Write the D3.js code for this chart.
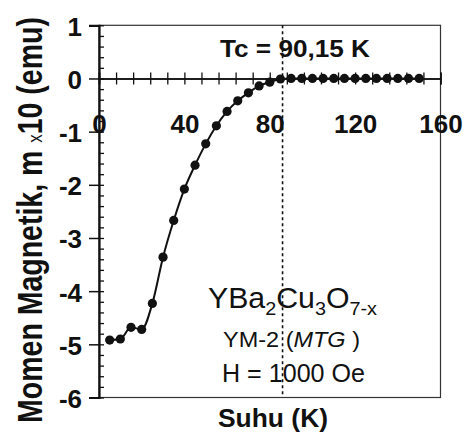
<!DOCTYPE html>
<html><head><meta charset="utf-8">
<script src="https://cdn.jsdelivr.net/npm/d3@7"></script>
<style>body{margin:0;background:#fff} svg{display:block} text{font-family:Arial,"Liberation Sans",sans-serif;fill:#111}</style>
</head><body><svg id="c" width="465" height="432"></svg>
<script>
// ---- data ----
const temps = [5,10,15,20,25,30,35,40,45,50,55,60,65,70,75,80,85,90,95,100,105,110,115,120,125,130,135,140,145,150];
const moment = [-4.92,-4.90,-4.68,-4.72,-4.23,-3.36,-2.67,-2.08,-1.63,-1.23,-0.89,-0.62,-0.42,-0.27,-0.14,-0.07,-0.01,0,0,0,0,0,0,0,0,0,0,0,0,0];
const xTickLabels = [0,40,80,120,160];
const yTickLabels = [-6,-5,-4,-3,-2,-1,0,1];
const tcLine = 86;

const W = 465, H = 432;
const x = d3.scaleLinear().domain([0,160]).range([99,440.5]);
const y = d3.scaleLinear().domain([-6,1]).range([397.5,25.3]);
const svg = d3.select("#c");
svg.append("rect").attr("width",W).attr("height",H).attr("fill","#fff");

// frame
svg.append("rect").attr("x",x(0)).attr("y",y(1)).attr("width",x(160)-x(0)).attr("height",y(-6)-y(1))
  .attr("fill","none").attr("stroke","#333").attr("stroke-width",1.2);

// dashed Tc line
svg.append("line").attr("x1",x(tcLine)).attr("x2",x(tcLine)).attr("y1",y(1)).attr("y2",y(-6))
  .attr("stroke","#111").attr("stroke-width",1.6).attr("stroke-dasharray","3,3");

// y axis: major ticks out, minor ticks in
const yMinor = d3.range(-6,1.0001,0.2);
svg.append("g").attr("transform",`translate(${x(0)},0)`)
  .call(d3.axisRight(y).tickValues(yMinor).tickSize(5).tickFormat(""))
  .call(g=>g.select(".domain").remove())
  .call(g=>g.selectAll("line").attr("stroke","#111").attr("stroke-width",1.3));
const yAx = svg.append("g").attr("transform",`translate(${x(0)},0)`)
  .call(d3.axisLeft(y).tickValues(yTickLabels).tickSize(10).tickPadding(7).tickFormat(d=>String(d)));
yAx.select(".domain").attr("stroke","#111").attr("stroke-width",2.2);
yAx.selectAll("line").attr("stroke","#111").attr("stroke-width",1.5);
yAx.selectAll("text").attr("font-size",26).attr("font-weight","bold").attr("dy","0.38em")
  .attr("font-family","Arial, 'Liberation Sans', sans-serif").attr("fill","#111");

// x axis at y=0 with crossing ticks
const xMinor = d3.range(0,160.001,8);
[d3.axisBottom, d3.axisTop].forEach(ax=>{
  svg.append("g").attr("transform",`translate(0,${y(0)})`)
    .call(ax(x).tickValues(xMinor).tickSize(6).tickFormat(""))
    .call(g=>g.select(".domain").attr("stroke","#111").attr("stroke-width",1.6))
    .call(g=>g.selectAll("line").attr("stroke","#111").attr("stroke-width",1.3));
});
const xLab = svg.append("g").attr("transform",`translate(0,${y(0)})`)
  .call(d3.axisBottom(x).tickValues(xTickLabels).tickSize(0).tickPadding(36).tickFormat(d=>String(d)));
xLab.select(".domain").remove();
xLab.selectAll("text").attr("font-size",26).attr("font-weight","bold")
  .attr("font-family","Arial, 'Liberation Sans', sans-serif").attr("fill","#111");

// data line + dots
const pts = temps.map((t,i)=>[t,moment[i]]);
svg.append("path").datum(pts)
  .attr("d",d3.line().x(d=>x(d[0])).y(d=>y(d[1])).curve(d3.curveMonotoneX))
  .attr("fill","none").attr("stroke","#111").attr("stroke-width",2);
svg.append("g").selectAll("circle").data(pts).join("circle")
  .attr("cx",d=>x(d[0])).attr("cy",d=>y(d[1])).attr("r",4.6).attr("fill","#111");

// annotations
svg.append("text").attr("x",220).attr("y",57.3).attr("font-size",24).attr("font-weight","bold")
  .attr("textLength",150).attr("lengthAdjust","spacingAndGlyphs").text("Tc = 90,15 K");

const f = svg.append("text").attr("x",208).attr("y",308.3).attr("font-size",29)
  .attr("textLength",169).attr("lengthAdjust","spacingAndGlyphs");
[["YBa",0],["2",1],["Cu",0],["3",1],["O",0],["7-x",1]].forEach(([s,sub],i,arr)=>{
  const prev = i>0 ? arr[i-1][1] : 0;
  const dy = sub && !prev ? 7 : (!sub && prev ? -7 : 0);
  f.append("tspan").attr("dy",dy).attr("font-size",sub?19:29).text(s);
});

const s2 = svg.append("text").attr("x",223).attr("y",346.7).attr("font-size",22)
  .attr("textLength",137).attr("lengthAdjust","spacingAndGlyphs");
s2.append("tspan").text("YM-2 (");
s2.append("tspan").attr("font-style","italic").text("MTG");
s2.append("tspan").text(" )");

svg.append("text").attr("x",222).attr("y",381.7).attr("font-size",25)
  .attr("textLength",143).attr("lengthAdjust","spacingAndGlyphs").text("H = 1000 Oe");

svg.append("text").attr("x",218).attr("y",426.5).attr("font-size",26).attr("font-weight","bold")
  .attr("textLength",110).attr("lengthAdjust","spacingAndGlyphs").text("Suhu (K)");

// y title (glyph height stretched with a transform instead of textLength)
const yt = svg.append("text").attr("transform","translate(41.5,220) rotate(-90) scale(1,1.2)")
  .attr("text-anchor","middle").attr("font-size",28.5).attr("font-weight","bold");
yt.append("tspan").text("Momen Magnetik, m ");
yt.append("tspan").attr("font-size",17).attr("font-weight","normal").text("x");
yt.append("tspan").text("10 (emu)");
</script></body></html>
